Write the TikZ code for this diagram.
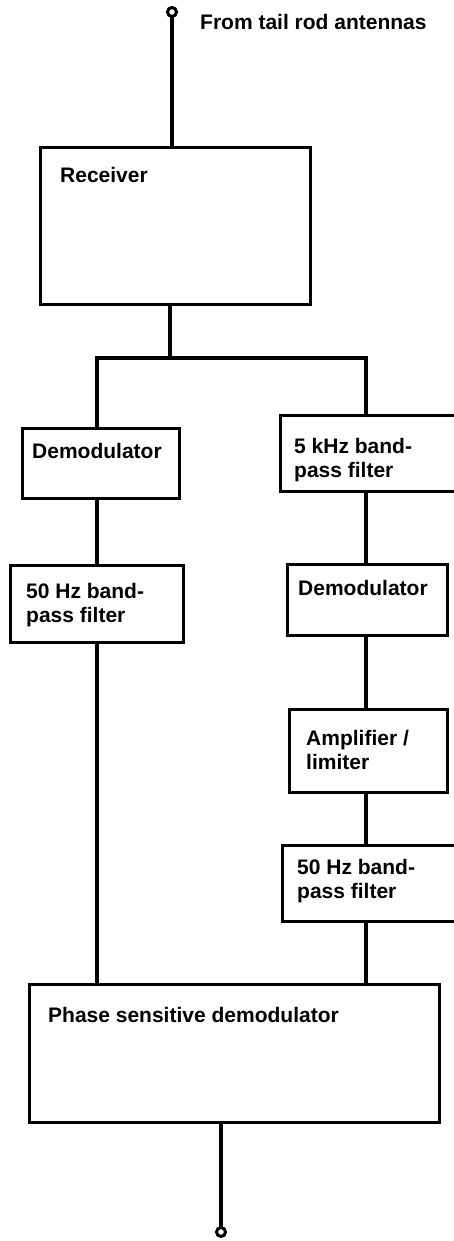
\documentclass[tikz,border=0pt]{standalone}
\usepackage{fontspec}
\setmainfont{Liberation Sans}
\usepackage{tikz}

\tikzset{
	blk/.style={draw, line width=3pt, inner sep=0pt},
	lbl/.style={anchor=base west, inner sep=0pt, align=left, font=\bfseries\fontsize{21}{24}\selectfont},
	wire/.style={line width=4.6pt},
}

\begin{document}
\begin{tikzpicture}[x=1pt,y=-1pt]
	\useasboundingbox (0,0) rectangle (453,1241);

	\node[blk, minimum width=270pt, minimum height=156pt] (rcv) at (175,226) {};
	\node[blk, minimum width=157pt, minimum height=70pt] (dem1) at (100.5,463) {};
	\node[blk, minimum width=190pt, minimum height=76pt] (bpf5) at (375,453) {};
	\node[blk, minimum width=173pt, minimum height=77pt] (bpf50a) at (96.5,603.5) {};
	\node[blk, minimum width=160pt, minimum height=71pt] (dem2) at (367,599.5) {};
	\node[blk, minimum width=158pt, minimum height=83pt] (amp) at (368,750.5) {};
	\node[blk, minimum width=188pt, minimum height=76pt] (bpf50b) at (376,883) {};
	\node[blk, minimum width=410pt, minimum height=138pt] (psd) at (234,1053) {};

	% two-line labels sit on the baseline of their last line
	\node[lbl] (from) at (200,30) {From tail rod antennas};
	\node[lbl] (trcv) at (60,183) {Receiver};
	\node[lbl] (tdem1) at (32,458) {Demodulator};
	\node[lbl] (tbpf5) at (294,477) {5 kHz band-\\pass filter};
	\node[lbl] (tbpf50a) at (26,622) {50 Hz band-\\pass filter};
	\node[lbl] (tdem2) at (298,595) {Demodulator};
	\node[lbl] (tamp) at (306,769) {Amplifier /\\limiter};
	\node[lbl] (tbpf50b) at (297,898) {50 Hz band-\\pass filter};
	\node[lbl] (tpsd) at (48,1022) {Phase sensitive demodulator};

	\coordinate (in) at (172,12);
	\coordinate (split) at (170,358);
	\coordinate (lcol) at (97,0);
	\coordinate (rcol) at (366,0);
	\coordinate (out) at (221,1232);

	\draw[wire] (in) -- (in |- rcv.north);
	\draw[wire] (rcv.south -| split) -- (split);
	\draw[wire] (lcol |- dem1.north) |- (split) -| (rcol |- bpf5.north);

	\draw[wire] (lcol |- dem1.south) -- (lcol |- bpf50a.north);
	\draw[wire] (lcol |- bpf50a.south) -- (lcol |- psd.north);

	\draw[wire] (rcol |- bpf5.south) -- (rcol |- dem2.north);
	\draw[wire] (rcol |- dem2.south) -- (rcol |- amp.north);
	\draw[wire] (rcol |- amp.south) -- (rcol |- bpf50b.north);
	\draw[wire] (rcol |- bpf50b.south) -- (rcol |- psd.north);

	\draw[wire] (out |- psd.south) -- (out);

	\draw[line width=3pt, fill=white] (in) circle [radius=4.5];
	\draw[line width=3pt, fill=white] (out) circle [radius=4.5];

\end{tikzpicture}
\end{document}
